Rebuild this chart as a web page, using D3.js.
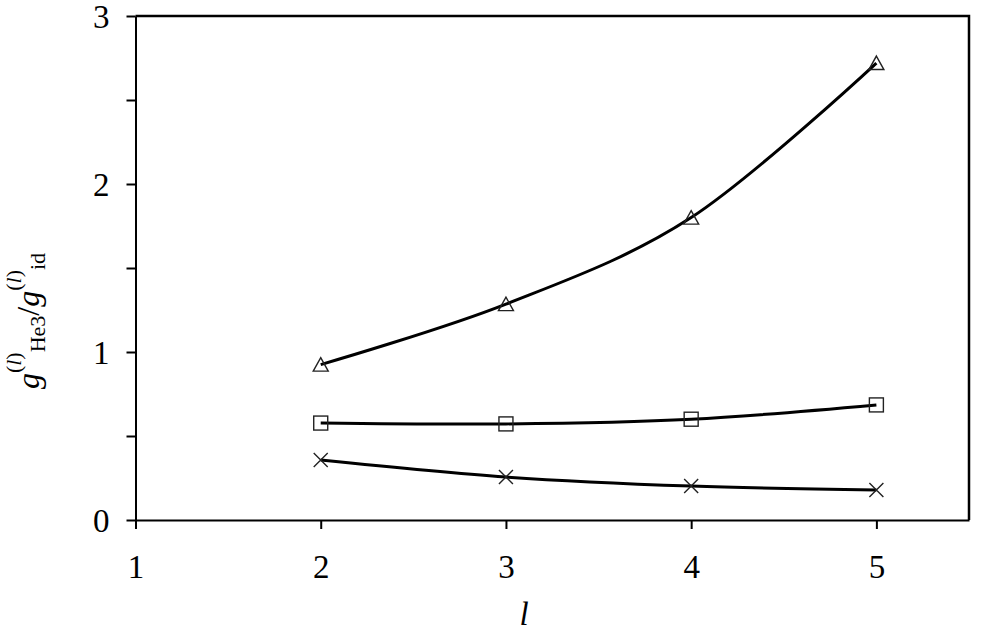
<!DOCTYPE html>
<html><head><meta charset="utf-8">
<script src="https://cdn.jsdelivr.net/npm/d3@7"></script>
<style>body{margin:0;background:#fff} svg{display:block} text{font-family:"Liberation Serif","Times New Roman",serif}</style>
</head><body><svg id="c" width="995" height="641"></svg>
<script>
const xValues = [2, 3, 4, 5];
const triangleSeries = [0.925, 1.285, 1.80, 2.72];
const squareSeries = [0.577, 0.572, 0.600, 0.685];
const crossSeries = [0.357, 0.256, 0.202, 0.178];
const xTicks = [1, 2, 3, 4, 5];
const yTicks = [0, 0.5, 1, 1.5, 2, 2.5, 3];
const xTitle = "l";

const svg = d3.select("#c");
const font = "Liberation Serif";
const x = d3.scaleLinear().domain([1, 5.5]).range([135.5, 969]);
const y = d3.scaleLinear().domain([0, 3]).range([520, 16]);

// frame top/right
svg.append("path")
  .attr("d", `M${x(1)},${y(3)}H${x(5.5)}V${y(0)}`)
  .attr("fill", "none").attr("stroke", "#000").attr("stroke-width", 2.5);

const xa = svg.append("g").attr("transform", `translate(0,${y(0)})`)
  .call(d3.axisBottom(x).tickValues(xTicks).tickFormat(d3.format("d")).tickSize(9).tickSizeOuter(0).tickPadding(26));
const ya = svg.append("g").attr("transform", `translate(${x(1)},0)`)
  .call(d3.axisLeft(y).tickValues(yTicks).tickFormat(d => Number.isInteger(d) ? d3.format("d")(d) : "").tickSize(9).tickSizeOuter(0).tickPadding(17));
[xa, ya].forEach(a => {
  a.attr("font-family", font);
  a.selectAll("path,line").attr("stroke", "#000").attr("stroke-width", 2);
  a.selectAll("text").attr("font-family", font).attr("font-size", 33).attr("fill", "#000");
});
ya.selectAll("text").attr("dy", "0.34em");

const line = d3.line().x((d, i) => x(xValues[i])).y(d => y(d)).curve(d3.curveCardinal.tension(0));
const series = [
  {vals: triangleSeries, type: "tri"},
  {vals: squareSeries, type: "sq"},
  {vals: crossSeries, type: "x"}
];
series.forEach(s => {
  svg.append("path").attr("d", line(s.vals)).attr("fill", "none")
    .attr("stroke", "#000").attr("stroke-width", 3);
});
series.forEach(s => {
  const g = svg.append("g");
  s.vals.forEach((v, i) => {
    const cx = x(xValues[i]), cy = y(v);
    if (s.type === "tri") {
      g.append("path").attr("d", `M${cx},${cy-7}L${cx+7.5},${cy+6.5}L${cx-7.5},${cy+6.5}Z`)
        .attr("fill", "none").attr("stroke", "#222").attr("stroke-width", 1.4);
    } else if (s.type === "sq") {
      g.append("rect").attr("x", cx-7).attr("y", cy-7).attr("width", 14).attr("height", 14)
        .attr("fill", "none").attr("stroke", "#222").attr("stroke-width", 1.4);
    } else {
      g.append("path").attr("d", `M${cx-7},${cy-7}L${cx+7},${cy+7}M${cx+7},${cy-7}L${cx-7},${cy+7}`)
        .attr("fill", "none").attr("stroke", "#222").attr("stroke-width", 1.4);
    }
  });
});

svg.append("text").attr("x", 524).attr("y", 625).attr("font-family", font)
  .attr("font-size", 33).attr("font-style", "italic").attr("text-anchor", "middle").text(xTitle);

const yt = svg.append("text").attr("transform", "translate(39,321) rotate(-90)")
  .attr("font-family", font).attr("font-size", 32).attr("text-anchor", "middle");
yt.append("tspan").attr("font-style", "italic").text("g");
yt.append("tspan").attr("font-size", 22).attr("dy", -18).text("(");
yt.append("tspan").attr("font-size", 22).attr("font-style", "italic").text("l");
yt.append("tspan").attr("font-size", 22).text(")");
yt.append("tspan").attr("font-size", 22).attr("dy", 24).text("He3");
yt.append("tspan").attr("dy", -6).text("/");
yt.append("tspan").attr("font-style", "italic").text("g");
yt.append("tspan").attr("font-size", 22).attr("dy", -18).text("(");
yt.append("tspan").attr("font-size", 22).attr("font-style", "italic").text("l");
yt.append("tspan").attr("font-size", 22).text(")");
yt.append("tspan").attr("font-size", 22).attr("dy", 24).text("id");
</script></body></html>
